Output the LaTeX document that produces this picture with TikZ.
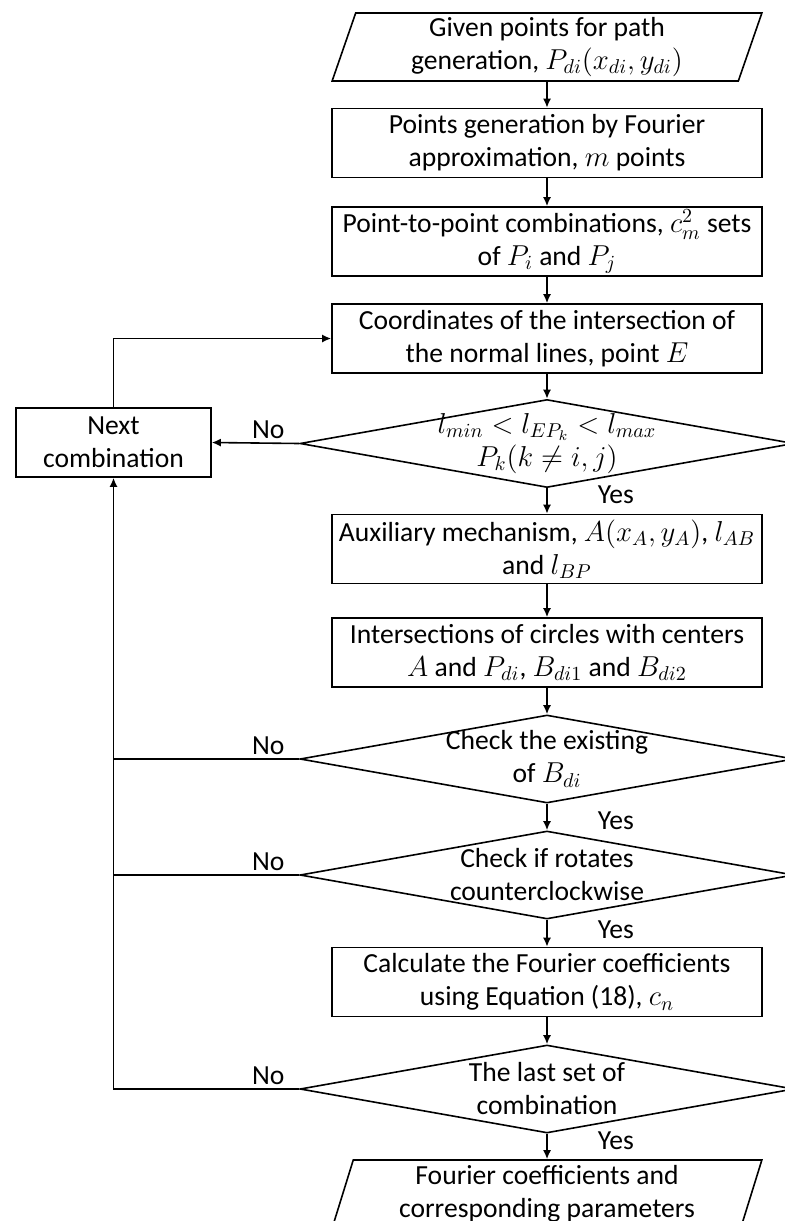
\documentclass[tikz,border=0pt]{standalone}
\usepackage{fontspec}
\setmainfont{Carlito}
\usetikzlibrary{shapes.geometric,arrows.meta,calc}

\begin{document}
\begin{tikzpicture}[x=0.5pt,y=-0.5pt,line width=0.8pt,
  every node/.style={font=\fontsize{13.8}{16.5}\selectfont},
  box/.style={draw,rectangle,minimum width=215pt,minimum height=34.5pt,align=center,inner sep=1pt},
  io/.style={draw,trapezium,trapezium left angle=75,trapezium right angle=105,trapezium stretches=true,minimum width=215pt,minimum height=34pt,align=center,inner sep=1pt},
  dec/.style={draw,diamond,minimum width=247pt,minimum height=44pt,inner sep=0pt},
  txt/.style={align=center,inner sep=0pt},
  lbl/.style={inner sep=2pt},
  arr/.style={-{Latex[length=4.5pt,width=4pt]}}]
\useasboundingbox (0,0) rectangle (785,1221);
\clip (0,0) rectangle (785,1221);
% main column
\node[io]  (p1) at (547,47)    {Given points for path\\generation, $P_{di}(x_{di},y_{di})$};
\node[box] (b2) at (547,143)   {Points generation by Fourier\\approximation, $m$ points};
\node[box] (b3) at (547,241.5) {Point-to-point combinations, $c_m^2$ sets\\of $P_i$ and $P_j$};
\node[box] (b4) at (547,338.5) {Coordinates of the intersection of\\the normal lines, point $E$};
\node[dec] (d1) at (547,443.5) {};
\node[txt] (d1t) at (d1.center) {$l_{min}<l_{EP_k}<l_{max}$\\$P_k(k\neq i,j)$};
\node[box] (b5) at (547,549)   {Auxiliary mechanism, $A(x_A,y_A)$, $l_{AB}$\\and $l_{BP}$};
\node[box] (b6) at (547,652.5) {Intersections of circles with centers\\$A$ and $P_{di}$, $B_{di1}$ and $B_{di2}$};
\node[dec] (d2) at (547,759)   {};
\node[txt] (d2t) at (d2.center) {Check the existing\\of $B_{di}$};
\node[dec] (d3) at (547,875)   {};
\node[txt] (d3t) at (d3.center) {Check if rotates\\counterclockwise};
\node[box] (b7) at (547,982)   {Calculate the Fourier coefficients\\using Equation (18), $c_n$};
\node[dec] (d4) at (547,1089)  {};
\node[txt] (d4t) at (d4.center) {The last set of\\combination};
\node[io]  (p2) at (547,1194)  {Fourier coefficients and\\corresponding parameters};
% loop box
\node[box,minimum width=97.5pt] (nc) at (113.5,442.5) {Next\\combination};
% connectors
\draw[arr] (p1) -- (b2);
\draw[arr] (b2) -- (b3);
\draw[arr] (b3) -- (b4);
\draw[arr] (b4) -- (d1);
\draw[arr] (d1) -- node[lbl,right,xshift=23pt,yshift=3pt] {Yes} (b5);
\draw[arr] (b5) -- (b6);
\draw[arr] (b6) -- (d2);
\draw[arr] (d2) -- node[lbl,right,xshift=23pt,yshift=-2pt] {Yes} (d3);
\draw[arr] (d3) -- node[lbl,right,xshift=23pt,yshift=2pt] {Yes} (b7);
\draw[arr] (b7) -- (d4);
\draw[arr] (d4) -- node[lbl,right,xshift=23pt,yshift=3pt] {Yes} (p2);
\draw[arr] (d1.west) -- node[lbl,pos=0,above left,xshift=-5pt] {No} (nc.east);
\draw[arr] (nc.north) |- (b4.west);
\draw[arr] (d4.west) -- node[lbl,pos=0,above left,xshift=-5pt] {No} (d4.west -| nc.south) -- (nc.south);
\foreach \d in {d2,d3}{
  \draw (\d.west) -- node[lbl,pos=0,above left,xshift=-5pt] {No} (\d.west -| nc.south);}
\end{tikzpicture}
\end{document}
